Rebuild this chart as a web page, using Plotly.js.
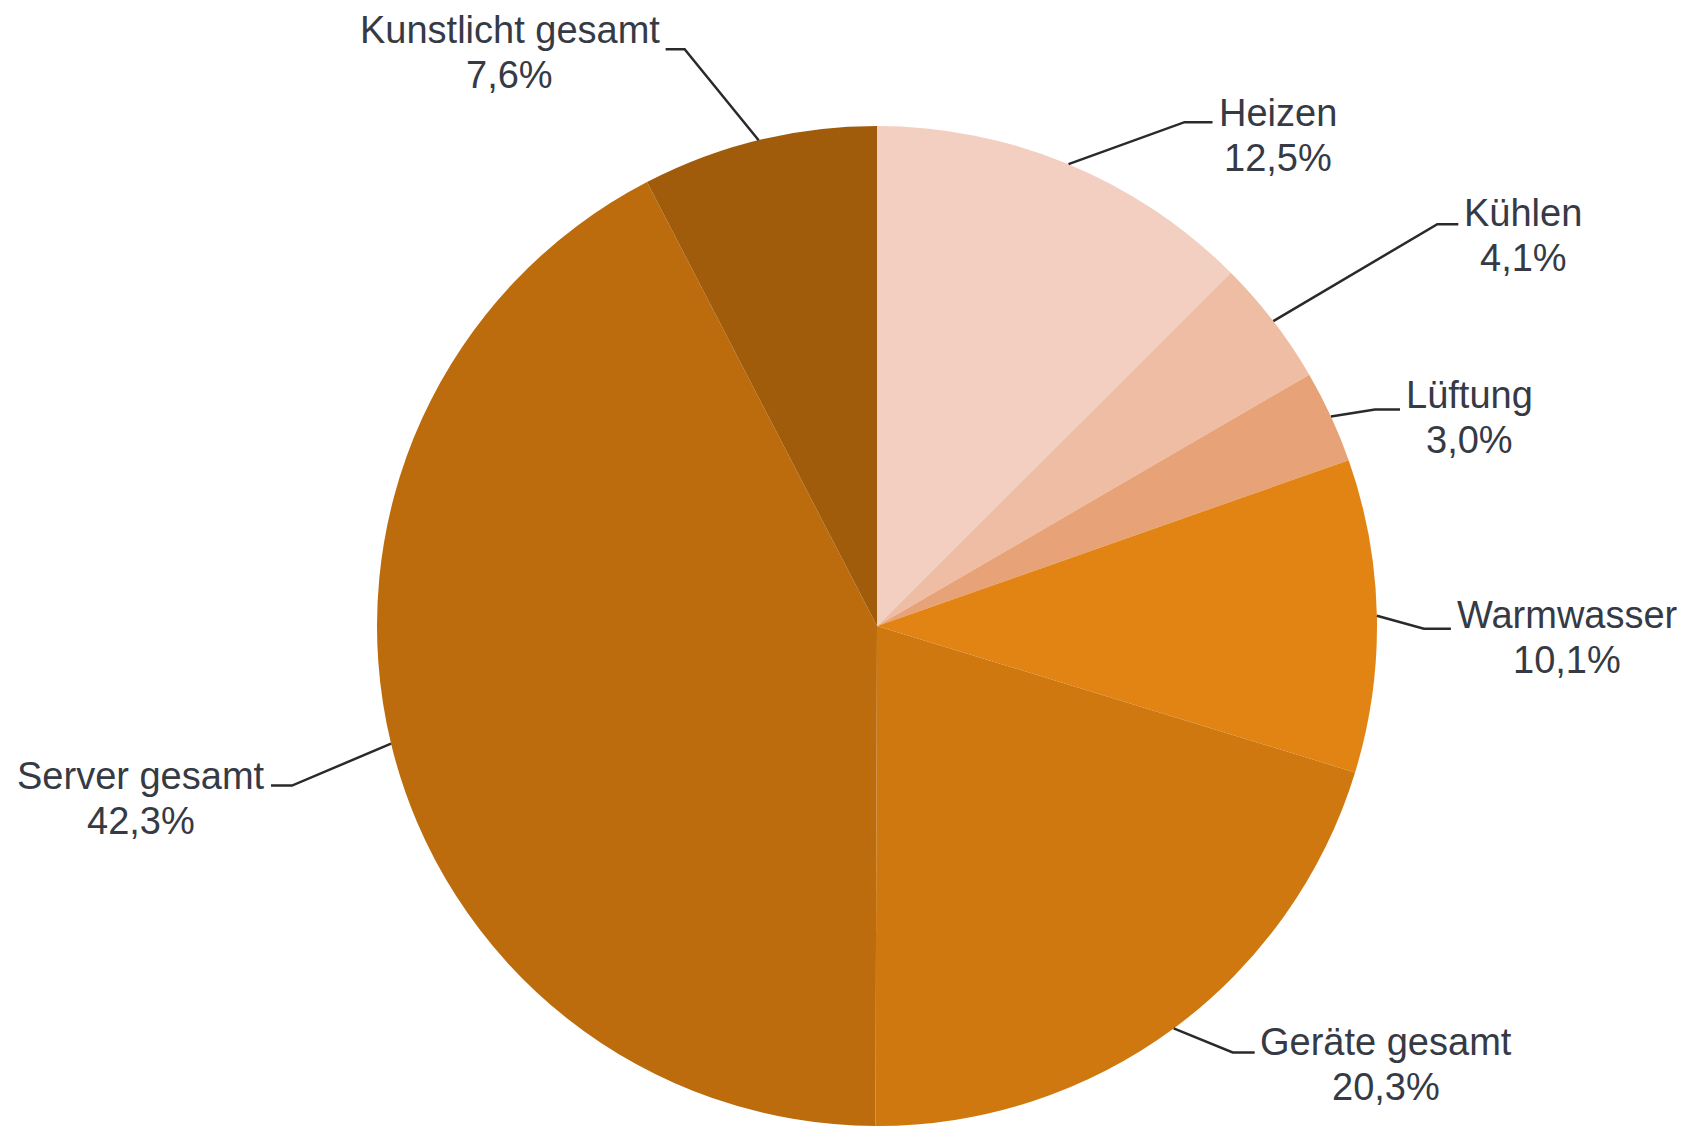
<!DOCTYPE html>
<html><head><meta charset="utf-8">
<script src="https://cdn.plot.ly/plotly-3.0.1.min.js"></script>
<style>html,body{margin:0;padding:0;background:#fff;overflow:hidden}</style>
</head>
<body><div id="chart" style="width:1704px;height:1128px"></div>
<script>
// ---- data ----
const categories = ["Heizen", "Kühlen", "Lüftung", "Warmwasser", "Geräte gesamt", "Server gesamt", "Kunstlicht gesamt"];
const shares = [12.5, 4.1, 3.0, 10.1, 20.3, 42.3, 7.6];
const sliceColors = ["#f2cfc0", "#eebda4", "#e8a277", "#e28414", "#d07810", "#bc6c0c", "#a15c0b"];

// ---- layout helpers (label leader geometry, in px relative to slice edge) ----
// [elbow dx, elbow dy, horizontal length, text block vertical shift]
const leaderCfg = [
  [116, -42, 28, 13],
  [164, -97, 21, 11],
  [44, -7, 25, 8],
  [47, 13, 27, 9],
  [59, 24, 22, 12],
  [-99, 42, 21, 13],
  [-74, -91, 19, 3]
];

const W = 1704, H = 1128;
const cx = 877, cy = 626, R = 500;
const FONT = "Liberation Sans, Arial, sans-serif";
const FSIZE = 38, LINEGAP = 45;
const px = x => x / W;
const py = y => 1 - y / H;

const ctx = document.createElement("canvas").getContext("2d");
ctx.font = FSIZE + "px 'Liberation Sans', Arial, sans-serif";
const tw = s => ctx.measureText(s).width;

const total = shares.reduce((a, b) => a + b, 0);
const shapes = [];
const annotations = [];
let cum = 0;
shares.forEach((v, i) => {
  const mid = (cum + v / 2) / total * 2 * Math.PI;
  cum += v;
  const ex = cx + R * Math.sin(mid);
  const ey = cy - R * Math.cos(mid);
  const [dx, dy, hl, tdy] = leaderCfg[i];
  const bx = ex + dx, by = ey + dy;
  const side = dx >= 0 ? 1 : -1;
  const endx = bx + side * hl;
  shapes.push({
    type: "path", xref: "paper", yref: "paper",
    path: `M ${px(ex)},${py(ey)} L ${px(bx)},${py(by)} L ${px(endx)},${py(by)}`,
    line: {color: "#2a2a2a", width: 2.5}
  });
  const lines = [categories[i], v.toFixed(1).replace(".", ",") + "%"];
  const bw = Math.max(...lines.map(tw));
  const startx = endx + side * 6;
  const centerx = side > 0 ? startx + bw / 2 : startx - bw / 2;
  const cyText = by + tdy;
  lines.forEach((t, k) => {
    annotations.push({
      xref: "paper", yref: "paper",
      x: px(centerx), y: py(cyText + (k - 0.5) * LINEGAP),
      xanchor: "center", yanchor: "middle",
      showarrow: false, text: t,
      font: {family: FONT, size: FSIZE, color: "#363a45"}
    });
  });
});

const trace = {
  type: "pie",
  labels: categories,
  values: shares,
  sort: false,
  direction: "clockwise",
  rotation: 0,
  textinfo: "none",
  hoverinfo: "label+percent",
  marker: {colors: sliceColors, line: {width: 0}},
  domain: {x: [px(cx - R), px(cx + R)], y: [py(cy + R), py(cy - R)]},
  showlegend: false
};

Plotly.newPlot("chart", [trace], {
  width: W, height: H,
  margin: {l: 0, r: 0, t: 0, b: 0},
  paper_bgcolor: "#ffffff",
  showlegend: false,
  shapes: shapes,
  annotations: annotations
}, {displayModeBar: false, staticPlot: true});
</script>
</body></html>
